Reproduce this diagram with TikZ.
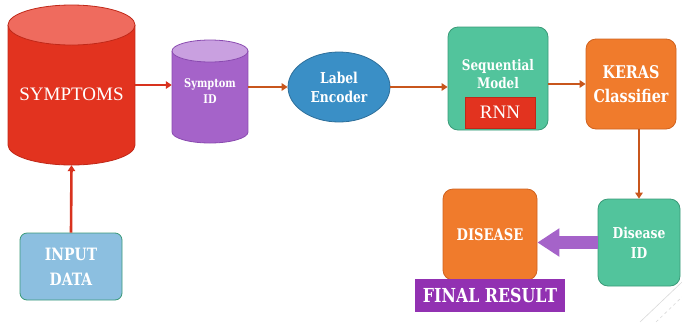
\documentclass[tikz,border=0pt]{standalone}
\usepackage{fontspec}
\setmainfont{Liberation Serif}
\newfontfamily\slab{DejaVu Serif}[FakeStretch=0.82]
\usetikzlibrary{arrows.meta,shapes.geometric}

\definecolor{symred}{HTML}{E2331F}
\definecolor{symtop}{HTML}{EF6B5E}
\definecolor{symedge}{HTML}{C02818}
\definecolor{idpurple}{HTML}{A563C9}
\definecolor{idtop}{HTML}{C9A0E0}
\definecolor{idedge}{HTML}{8A4BB0}
\definecolor{encblue}{HTML}{3A8FC6}
\definecolor{encedge}{HTML}{2E6F9A}
\definecolor{seqgreen}{HTML}{52C49C}
\definecolor{seqedge}{HTML}{3A9A78}
\definecolor{keorange}{HTML}{F07B2C}
\definecolor{keedge}{HTML}{D0621E}
\definecolor{inblue}{HTML}{8CBFE0}
\definecolor{finpurple}{HTML}{9231B2}
\definecolor{arrred}{HTML}{D8321E}
\definecolor{arrbrown}{HTML}{C8561C}

\tikzset{
  boxtext/.style={text=white,align=center,inner sep=0pt},
  rbox/.style={rounded corners=10pt,line width=0.8pt,inner sep=0pt},
  flow/.style={line width=2.6pt,-{Triangle[length=6pt,width=7.5pt]}}
}

\begin{document}
\begin{tikzpicture}[x=1pt,y=-1pt]
  \useasboundingbox (0,0) rectangle (682,322);

  % cylinders
  \fill[symred] (8,25) rectangle (135,145);
  \fill[symred] (71.5,145) ellipse[x radius=63.5,y radius=20];
  \draw[symedge,line width=0.8pt] (8,25) -- (8,145)
      arc[start angle=180,end angle=0,x radius=63.5,y radius=20] -- (135,25);
  \draw[symedge,line width=0.8pt,fill=symtop] (71.5,25) ellipse[x radius=63.5,y radius=20];

  \fill[idpurple] (172,51) rectangle (248,132);
  \fill[idpurple] (210,132) ellipse[x radius=38,y radius=11];
  \draw[idedge,line width=0.8pt] (172,51) -- (172,132)
      arc[start angle=180,end angle=0,x radius=38,y radius=11] -- (248,51);
  \draw[idedge,line width=0.8pt,fill=idtop] (210,51) ellipse[x radius=38,y radius=11];

  % nodes
  \begin{scope}[every node/.style={boxtext}]
    \node[minimum width=127,minimum height=160,text height=31pt,
          font=\fontsize{19}{22}\selectfont] (symp) at (71.5,85) {SYMPTOMS};
    \node[minimum width=76,minimum height=103,
          font=\slab\bfseries\fontsize{12}{16}\selectfont] (symid) at (210,91.5) {Symptom\\ID};
    \node[ellipse,draw=encedge,fill=encblue,line width=0.8pt,
          minimum width=102,minimum height=70,
          font=\slab\bfseries\fontsize{15}{19}\selectfont] (label) at (339,87) {Label\\Encoder};
    \node[rbox,draw=seqedge,fill=seqgreen,minimum width=100,minimum height=103] (seq) at (498,78.5) {};
    \node[font=\slab\bfseries\fontsize{14.6}{18}\selectfont] at (498,74) {Sequential\\Model};
    \node[fill=symred,draw=symedge,line width=0.6pt,minimum width=70,minimum height=31,
          font=\fontsize{19}{20}\selectfont] (rnn) at (500,112.5) {RNN};
    \node[rbox,draw=keedge,fill=keorange,minimum width=90,minimum height=90,
          font=\slab\bfseries\fontsize{17.5}{24}\selectfont] (keras) at (631,84) {KERAS\\Classifier};
    \node[rbox,draw=seqedge,fill=seqgreen,minimum width=82,minimum height=87,
          font=\slab\bfseries\fontsize{15}{20}\selectfont] (disid) at (639,242.5) {Disease\\ID};
    \node[rbox,draw=keedge,fill=keorange,minimum width=94,minimum height=91,
          font=\slab\bfseries\fontsize{16}{16}\selectfont] (disease) at (490,234.5) {DISEASE};
    \node[fill=finpurple,minimum width=150,minimum height=33,
          font=\slab\bfseries\fontsize{19.3}{20}\selectfont] (final) at (490,295.5) {FINAL RESULT};
    \node[rounded corners=7pt,draw=seqedge,fill=inblue,line width=0.8pt,
          minimum width=102,minimum height=67,
          font=\slab\bfseries\fontsize{17}{25}\selectfont] (input) at (71,266.5) {INPUT\\DATA};
  \end{scope}

  % connectors
  \draw[flow,arrred] (input.north) -- (symp.south);
  \draw[flow,arrred] (symp.east) -- (symp.east -| symid.west);
  \draw[flow,arrbrown] (label.west -| symid.east) -- (label.west);
  \draw[flow,arrbrown] (label.east) -- (label.east -| seq.west);
  \draw[flow,arrbrown] (keras.west -| seq.east) -- (keras.west);
  \draw[flow,arrbrown] (keras.south -| disid.north) -- (disid.north);
  \draw[line width=13pt,color=idpurple,-{Triangle[length=22pt,width=27pt]}]
      (disid.west) -- (disid.west -| disease.east);

  % faint slide lines
  \draw[gray!30,line width=0.6pt] (640,322) -- (682,282);
  \draw[gray!30,line width=0.6pt,dashed] (656,322) -- (682,297);
\end{tikzpicture}
\end{document}
